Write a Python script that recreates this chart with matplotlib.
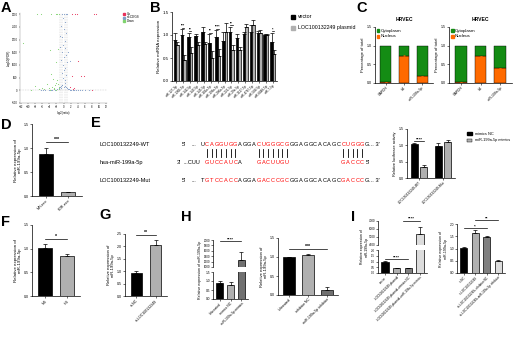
import numpy as np
import matplotlib
matplotlib.use("Agg")
import matplotlib.pyplot as plt

plt.rcParams['font.family'] = ['Liberation Sans', 'DejaVu Sans']
plt.rcParams['axes.linewidth'] = 0.5
plt.rcParams['xtick.major.width'] = 0.4
plt.rcParams['ytick.major.width'] = 0.4
plt.rcParams['xtick.major.size'] = 1.2
plt.rcParams['ytick.major.size'] = 1.2
plt.rcParams['xtick.major.pad'] = 0.8
plt.rcParams['ytick.major.pad'] = 0.8

W, H = 520, 339

# ---------------- DATA ----------------
# A volcano
up_x = [2.4, 3.3, 3.9, 8.7, 9.1, 4.2, 5.0, 5.9, 2.4, 8.1, 2.6, 1.8, 3.0]
up_y = [3000, 3000, 3000, 3000, 3000, 1170, 550, 550, 550, 30, 50, 120, 80]
down_x = [-7.4, -6.3, -3.5, -2.2, -1.7, -1.3, -11.5, -3.9, -1.5, -2.2, -3.5, -3.0, -4.8, -6.0, -8.0, -9.1,
          -2.0, -2.5, -1.8, -3.2, -4.0, -5.5, -1.5, -2.8, -1.2, -3.8, -6.8, -2.0, -1.4, -2.6]
down_y = [3000, 3000, 3000, 3000, 3000, 3000, 1850, 1590, 1630, 1130, 650, 460, 260, 100, 160, 30,
          300, 200, 420, 150, 90, 60, 250, 40, 120, 20, 40, 10, 60, 90]
ns_x = [-0.4, 0.2, 0.6, 1.0, -0.2, 0.4, -0.6, 0.1, 0.8, -0.3, 0.5, -0.1, 0.3, -0.5, 0.7, 0.0, -0.7, 0.9,
        -0.2, 0.4, 1.3, 1.7, -0.9, -1.0, 0.2, -0.4, 0.6, -0.1, 0.3, 0.5, -0.3, 0.1,
        -6.5, -5.2, -4.1, -3.3, -2.7, -1.9, -1.4, -1.1, -0.8, -0.6, -0.3, 0.3, 0.6, 0.9, 1.2, 1.6,
        2.1, 2.7, 3.4, 4.2, 5.1, 6.0, 7.2, -5.8, -3.6, -2.3, 1.9, 3.1, 4.6]
ns_y = [3000, 3000, 3000, 3000, 2850, 2700, 2550, 2400, 2250, 2100, 1950, 1800, 1650, 1500, 1400, 1300,
        1200, 1100, 1000, 900, 1500, 1170, 2150, 1700, 800, 700, 600, 500, 400, 300, 200, 150,
        10, 20, 15, 30, 50, 40, 80, 120, 100, 160, 220, 180, 140, 90, 60, 40,
        30, 20, 25, 15, 10, 12, 8, 5, 8, 12, 10, 6, 4]

# B grouped bars
mirnas = ["miR-127-3p", "miR-1306-5p", "miR-142-5p", "miR-143-5p", "miR-145-5p", "miR-181a-5p",
          "miR-199a-5p", "miR-200a-5p", "miR-221-5p", "miR-29a-5p", "miR-3127-5p", "miR-4787-5p",
          "miR-584-5p", "miR-6848-5p", "miR-7-5p"]
b_vector = [0.90, 1.00, 0.95, 0.97, 1.06, 0.82, 0.95, 0.88, 1.06, 0.93, 1.02, 1.06, 1.04, 1.00, 0.85]
b_vector_err = [0.15, 0.12, 0.10, 0.05, 0.12, 0.20, 0.15, 0.18, 0.12, 0.10, 0.05, 0.15, 0.05, 0.02, 0.20]
b_plasmid = [0.79, 0.46, 0.60, 0.79, 0.80, 0.50, 0.55, 1.06, 0.68, 0.68, 1.17, 1.22, 1.05, 1.00, 0.58]
b_plasmid_err = [0.05, 0.10, 0.15, 0.05, 0.05, 0.15, 0.15, 0.20, 0.10, 0.05, 0.08, 0.10, 0.05, 0.02, 0.10]
b_sig = {1: "***", 2: "**", 5: "**", 6: "****", 8: "**", 14: "*"}

# C
c_genes = ["GAPDH", "U6", "miR-199a-5p"]
c_nucleus_1 = [0.03, 0.72, 0.19]
c_nucleus_2 = [0.03, 0.71, 0.40]

# D
d_groups = ["MH-exo", "PDR-exo"]
d_vals = [0.87, 0.08]
d_errs = [0.13, 0.01]

# E luciferase
e_groups = ["LOC100132249-WT", "LOC100132249-Mut"]
e_nc = [1.03, 0.98]
e_nc_err = [0.03, 0.08]
e_mim = [0.35, 1.10]
e_mim_err = [0.05, 0.07]

# F
f_groups = ["NG", "HG"]
f_vals = [1.01, 0.84]
f_errs = [0.08, 0.05]

# G
g_groups = ["si-NC", "si-LOC100132249"]
g_vals = [0.91, 2.05]
g_errs = [0.08, 0.22]

# H
h1_groups = ["Untreated", "mimics NC", "miR-199a-5p mimics"]
h1_vals = [0.90, 0.80, 1250]
h1_errs = [0.10, 0.12, 300]
h2_groups = ["Untreated", "inhibitor NC", "miR-199a-5p inhibitor"]
h2_vals = [0.99, 1.04, 0.13]
h2_errs = [0.01, 0.05, 0.08]

# I
i1_groups = ["vector", "LOC100132249 plasmid", "LOC100132249 plasmid+mimics NC",
             "LOC100132249 plasmid+miR-199a-5p mimics"]
i1_vals = [1.00, 0.40, 0.42, 5400]
i1_errs = [0.03, 0.03, 0.03, 900]
i2_groups = ["si-NC", "si-LOC100132249", "si-LOC100132249+inhibitor NC",
             "si-LOC100132249+miR-199a-5p inhibitor"]
i2_vals = [1.02, 1.63, 1.47, 0.50]
i2_errs = [0.03, 0.12, 0.02, 0.03]

# ---------------- HELPERS ----------------
fig = plt.figure(figsize=(W / 100, H / 100), dpi=100)
TK = 2.6
LB = 3.0


def axpx(x0, y0, x1, y1):
    return fig.add_axes([x0 / W, 1 - y1 / H, (x1 - x0) / W, (y1 - y0) / H])


def ftext(x, y, s, **kw):
    fig.text(x / W, 1 - y / H, s, **kw)


def prism(ax):
    ax.spines['top'].set_visible(False)
    ax.spines['right'].set_visible(False)
    ax.tick_params(labelsize=TK, length=1.2)


def bars(ax, vals, errs, colors, width=0.62, x=None):
    if x is None:
        x = np.arange(len(vals))
    ax.bar(x, vals, width, color=colors, edgecolor='black', linewidth=0.5, zorder=2)
    ax.errorbar(x, vals, yerr=[np.zeros(len(errs)), errs], fmt='none', ecolor='black',
                elinewidth=0.5, capsize=1.2, capthick=0.5, zorder=3)


def sig(ax, x0, x1, y, s, fs=3.8):
    ax.plot([x0, x1], [y, y], color='black', lw=0.5, clip_on=False)
    ax.text((x0 + x1) / 2, y, s, ha='center', va='bottom', fontsize=fs, fontweight='bold',
            clip_on=False)


def xlabels(ax, labels, fs=TK):
    ax.set_xticks(np.arange(len(labels)))
    ax.set_xticklabels(labels, rotation=45, ha='right', rotation_mode='anchor', fontsize=fs)


def letter(x, y, s):
    ftext(x, y, s, fontsize=10.5, fontweight='bold', va='top', ha='left')


# ---------------- A ----------------
ax = axpx(20, 13, 107, 103)
ax.scatter(ns_x, ns_y, s=0.6, color='#7f9cc8', lw=0, zorder=2)
ax.scatter(down_x, down_y, s=0.6, color='#7fd36e', lw=0, zorder=2)
ax.scatter(up_x, up_y, s=0.6, color='#e8305a', lw=0, zorder=2)
for xv in [-1, -0.4, 0.4, 1]:
    ax.axvline(xv, color='#aaaaaa', lw=0.3, ls=(0, (2, 2)), zorder=1)
ax.axhline(30, color='#aaaaaa', lw=0.3, ls=(0, (2, 2)), zorder=1)
ax.set_xlim(-12.3, 12.3)
ax.set_ylim(-500, 3050)
ax.set_xticks(range(-12, 13, 2))
ax.set_yticks(range(-500, 3001, 500))
prism(ax)
ax.tick_params(labelsize=1.9, length=0.8, width=0.3)
for s in ax.spines.values():
    s.set_linewidth(0.3)
    s.set_color('#888888')
ax.set_ylabel('-log10(FDR)', fontsize=2.2, labelpad=1)
ax.set_xlabel('log2(ratio)', fontsize=2.2, labelpad=1)
for yy, col, lab in [(14, '#e8305a', 'Up'), (17.5, '#7f9cc8', 'no-DEGS'), (21, '#7fd36e', 'Down')]:
    fig.patches.append(plt.Rectangle(((123) / W, 1 - (yy + 1) / H), 2 / W, 2 / H,
                                     transform=fig.transFigure, color=col))
    ftext(127, yy, lab, fontsize=2.2, va='center')
letter(1, 1, 'A')

# ---------------- B ----------------
ax = axpx(172, 12, 277, 81)
xb = np.arange(len(mirnas))
bw = 0.36
bars(ax, b_vector, b_vector_err, 'black', width=bw, x=xb - bw / 2)
bars(ax, b_plasmid, b_plasmid_err, '#b0b0b0', width=bw, x=xb + bw / 2)
for k, s in b_sig.items():
    yy = max(b_vector[k] + b_vector_err[k], b_plasmid[k] + b_plasmid_err[k]) + 0.03
    sig(ax, k - bw / 2, k + bw / 2, yy, s, fs=2.6)
ax.set_xlim(-0.6, len(mirnas) - 0.4)
ax.set_ylim(0, 1.5)
ax.set_yticks([0, 0.5, 1.0, 1.5])
ax.set_yticklabels(['0.0', '0.5', '1.0', '1.5'])
prism(ax)
ax.tick_params(axis='y', labelsize=3.2)
xlabels(ax, mirnas, fs=2.2)
ax.set_ylabel('Relative miRNA expression', fontsize=3.2, labelpad=1.5)
fig.patches.append(plt.Rectangle((291 / W, 1 - 19 / H), 4 / W, 4 / H, transform=fig.transFigure,
                                 color='black'))
ftext(298, 17, 'vector', fontsize=3.8, va='center')
fig.patches.append(plt.Rectangle((291 / W, 1 - 30 / H), 4 / W, 4 / H, transform=fig.transFigure,
                                 color='#b0b0b0'))
ftext(298, 28, 'LOC100132249 plasmid', fontsize=3.8, va='center')
letter(150, 1, 'B')

# ---------------- C ----------------
GREEN = '#148c14'
ORANGE = '#ff6a00'
for (x0, x1), nuc in [((375, 433), c_nucleus_1), ((449, 512), c_nucleus_2)]:
    ax = axpx(x0, 27, x1, 83)
    xc = np.arange(3)
    cyto = [1 - v for v in nuc]
    ax.bar(xc, nuc, 0.6, color=ORANGE, edgecolor='black', linewidth=0.3, zorder=2)
    ax.bar(xc, cyto, 0.6, bottom=nuc, color=GREEN, edgecolor='black', linewidth=0.3, zorder=2)
    ax.errorbar(xc, nuc, yerr=[np.zeros(3), [0.01, 0.02, 0.01]], fmt='none', ecolor=ORANGE,
                elinewidth=0.4, capsize=1, capthick=0.4, zorder=3)
    ax.set_xlim(-0.6, 2.6)
    ax.set_ylim(0, 1.5)
    ax.set_yticks([0, 0.5, 1.0, 1.5])
    ax.set_yticklabels(['0.0', '0.5', '1.0', '1.5'])
    prism(ax)
    xlabels(ax, c_genes, fs=2.4)
    ax.set_ylabel('Percentage of total', fontsize=3.0, labelpad=1.5)
    ax.set_title('HRVEC', fontsize=3.6, fontweight='bold', pad=4)
    ax.add_patch(plt.Rectangle((-0.5, 1.36), 0.14, 0.08, color=GREEN, clip_on=False))
    ax.text(-0.3, 1.40, 'Cytoplasm', fontsize=3.2, va='center')
    ax.add_patch(plt.Rectangle((-0.5, 1.21), 0.14, 0.08, color=ORANGE, clip_on=False))
    ax.text(-0.3, 1.25, 'Nucleus', fontsize=3.2, va='center')
letter(356, 1, 'C')

# ---------------- D ----------------
ax = axpx(32, 124, 82, 196)
bars(ax, d_vals, d_errs, ['black', '#b0b0b0'])
sig(ax, 0, 1, 1.12, '***')
ax.set_xlim(-0.6, 1.6)
ax.set_ylim(0, 1.5)
ax.set_yticks([0, 0.5, 1.0, 1.5])
ax.set_yticklabels(['0.0', '0.5', '1.0', '1.5'])
prism(ax)
xlabels(ax, d_groups)
ax.set_ylabel('Relative expression of\nmiR-199a-5p', fontsize=3.2, labelpad=1.5)
letter(1, 118, 'D')

# ---------------- E sequences ----------------
letter(91, 116, 'E')
FS = 4.1
pitch = 4.7
x_start = 200.0
wt = [("U", 'black'), ("CAGGUGG", 'red'), ("AGGA", 'black'), ("CUGGGCG", 'red'),
      ("GGAGGCACAGC", 'black'), ("CUGGG", 'red'), ("G", 'black')]
mut = [("T", 'black'), ("GTCCACC", 'red'), ("AGGA", 'black'), ("GACCCGC", 'red'),
       ("GGAGGCACAGC", 'black'), ("GACCC", 'red'), ("G", 'black')]
mir = [(" ", 'black'), ("GUCCAUC", 'red'), ("A   ", 'black'), ("GACUUGU", 'red'),
       ("           ", 'black'), ("GACCC", 'red')]
y_wt, y_mir, y_mut = 144, 162, 181


def seqline(segs, y):
    i = 0
    for s, c in segs:
        for ch in s:
            if ch != ' ':
                ftext(x_start + i * pitch + pitch / 2, y, ch, fontsize=FS, color=c, ha='center',
                      va='center')
            i += 1
    return x_start + i * pitch


ftext(100, y_wt, 'LOC100132249-WT', fontsize=FS, va='center')
ftext(182, y_wt, "5'", fontsize=FS, va='center')
ftext(191, y_wt, "...", fontsize=FS, va='center')
e = seqline(wt, y_wt)
ftext(e, y_wt, "... 3'", fontsize=FS, va='center')

ftext(100, y_mir, 'hsa-miR-199a-5p', fontsize=FS, va='center')
ftext(177, y_mir, "3'", fontsize=FS, va='center')
ftext(200, y_mir, "...CUU", fontsize=FS, va='center', ha='right')
e = seqline(mir, y_mir)
ftext(e + 1, y_mir, "5'", fontsize=FS, va='center')

ftext(100, y_mut, 'LOC100132249-Mut', fontsize=FS, va='center')
ftext(182, y_mut, "5'", fontsize=FS, va='center')
ftext(191, y_mut, "...", fontsize=FS, va='center')
e = seqline(mut, y_mut)
ftext(e, y_mut, "... 3'", fontsize=FS, va='center')

# pairing bars
pos = 0
for s, c in wt:
    for ch in s:
        if c == 'red':
            xx = (x_start + pos * pitch + pitch / 2) / W
            fig.add_artist(plt.Line2D([xx, xx], [1 - 149 / H, 1 - 157 / H], color='black', lw=0.6,
                                      transform=fig.transFigure))
        pos += 1

# E luciferase bars
ax = axpx(407, 129, 455, 178)
xe = np.arange(2)
bw = 0.32
bars(ax, e_nc, e_nc_err, 'black', width=bw, x=xe - bw / 2 - 0.03)
bars(ax, e_mim, e_mim_err, '#b0b0b0', width=bw, x=xe + bw / 2 + 0.03)
sig(ax, -0.2, 0.2, 1.12, '****', fs=3.2)
ax.set_xlim(-0.5, 1.5)
ax.set_ylim(0, 1.5)
ax.set_yticks([0, 0.5, 1.0, 1.5])
ax.set_yticklabels(['0.0', '0.5', '1.0', '1.5'])
prism(ax)
xlabels(ax, e_groups, fs=2.4)
ax.set_ylabel('Relative luciferase activity', fontsize=2.8, labelpad=1.5)
fig.patches.append(plt.Rectangle((467 / W, 1 - 135 / H), 5 / W, 3 / H, transform=fig.transFigure,
                                 color='black'))
ftext(475, 133.5, 'mimics NC', fontsize=2.8, va='center')
fig.patches.append(plt.Rectangle((467 / W, 1 - 142 / H), 5 / W, 3 / H, transform=fig.transFigure,
                                 facecolor='#b0b0b0', edgecolor='black', lw=0.3))
ftext(475, 140.5, 'miR-199a-5p mimics', fontsize=2.8, va='center')

# ---------------- F ----------------
ax = axpx(32, 225, 80, 296)
bars(ax, f_vals, f_errs, ['black', '#b0b0b0'])
sig(ax, 0, 1, 1.2, '*')
ax.set_xlim(-0.6, 1.6)
ax.set_ylim(0, 1.5)
ax.set_yticks([0, 0.5, 1.0, 1.5])
ax.set_yticklabels(['0.0', '0.5', '1.0', '1.5'])
prism(ax)
xlabels(ax, f_groups)
ax.set_ylabel('Relative expression of\nmiR-199a-5p', fontsize=3.2, labelpad=1.5)
letter(1, 215, 'F')

# ---------------- G ----------------
ax = axpx(125, 234, 167, 296)
bars(ax, g_vals, g_errs, ['black', '#b0b0b0'])
sig(ax, 0, 1, 2.45, '**')
ax.set_xlim(-0.6, 1.6)
ax.set_ylim(0, 2.5)
ax.set_yticks([0, 0.5, 1.0, 1.5, 2.0, 2.5])
ax.set_yticklabels(['0.0', '0.5', '1.0', '1.5', '2.0', '2.5'])
prism(ax)
xlabels(ax, g_groups)
ax.set_ylabel('Relative expression of\nmiR-199a-5p', fontsize=3.0, labelpad=1.5)
letter(99, 208, 'G')

# ---------------- H ----------------
cols3 = ['black', '#b0b0b0', '#707070']
axt = axpx(213, 240, 248, 267)
axb = axpx(213, 272, 248, 299)
for a in (axt, axb):
    bars(a, h1_vals, h1_errs, cols3)
    a.set_xlim(-0.6, 2.6)
    prism(a)
axt.set_ylim(1000, 2000)
axt.set_yticks(range(1000, 2001, 200))
axt.spines['bottom'].set_visible(False)
axt.set_xticks([])
axt.tick_params(labelsize=2.1)
axb.set_ylim(0, 1.5)
axb.set_yticks([0, 0.5, 1.0, 1.5])
axb.set_yticklabels(['0.0', '0.5', '1.0', '1.5'])
axb.tick_params(axis='y', labelsize=2.3)
xlabels(axb, h1_groups, fs=2.4)
sig(axt, 0, 2, 1950, '****', fs=3.2)
ftext(200, 270, 'Relative expression of miR-199a-5p', fontsize=2.6, rotation=90, ha='center',
      va='center')
letter(181, 210, 'H')

ax = axpx(278, 238, 338, 295)
bars(ax, h2_vals, h2_errs, cols3)
sig(ax, 0, 2, 1.22, '***')
ax.set_xlim(-0.6, 2.6)
ax.set_ylim(0, 1.5)
ax.set_yticks([0, 0.5, 1.0, 1.5])
ax.set_yticklabels(['0.0', '0.5', '1.0', '1.5'])
prism(ax)
xlabels(ax, h2_groups, fs=2.6)
ax.set_ylabel('Relative expression of\nmiR-199a-5p', fontsize=3.0, labelpad=1.5)

# ---------------- I ----------------
cols4 = ['black', '#b0b0b0', '#808080', '#dcdcdc']
axt = axpx(378, 221, 427, 245)
axb = axpx(378, 250, 427, 273)
for a in (axt, axb):
    bars(a, i1_vals, i1_errs, cols4)
    a.set_xlim(-0.6, 3.6)
    prism(a)
axt.set_ylim(4000, 7000)
axt.set_yticks([4000, 5000, 6000, 7000])
axt.spines['bottom'].set_visible(False)
axt.set_xticks([])
axt.tick_params(labelsize=2.2)
axb.set_ylim(0, 2.0)
axb.set_yticks([0, 0.5, 1.0, 1.5, 2.0])
axb.set_yticklabels(['0.0', '0.5', '1.0', '1.5', '2.0'])
axb.tick_params(axis='y', labelsize=2.1)
xlabels(axb, i1_groups, fs=2.2)
sig(axb, 0, 2, 1.2, '****', fs=3.2)
sig(axt, 1.5, 3, 7000, '****', fs=3.2)
ftext(364, 247, 'Relative expression of\nmiR-199a-5p', fontsize=2.5, rotation=90, ha='center',
      va='center')
letter(351, 210, 'I')

ax = axpx(457, 224, 505, 273)
bars(ax, i2_vals, i2_errs, cols4)
sig(ax, 0, 2, 1.83, '*', fs=3.2)
sig(ax, 1, 3, 2.15, '**', fs=3.2)
ax.set_xlim(-0.6, 3.6)
ax.set_ylim(0, 2.0)
ax.set_yticks([0, 0.5, 1.0, 1.5, 2.0])
ax.set_yticklabels(['0.0', '0.5', '1.0', '1.5', '2.0'])
prism(ax)
ax.tick_params(labelsize=2.3)
xlabels(ax, i2_groups, fs=2.2)
ax.set_ylabel('Relative expression of\nmiR-199a-5p', fontsize=2.6, labelpad=1.5)

fig.savefig('out.png', dpi=100)
